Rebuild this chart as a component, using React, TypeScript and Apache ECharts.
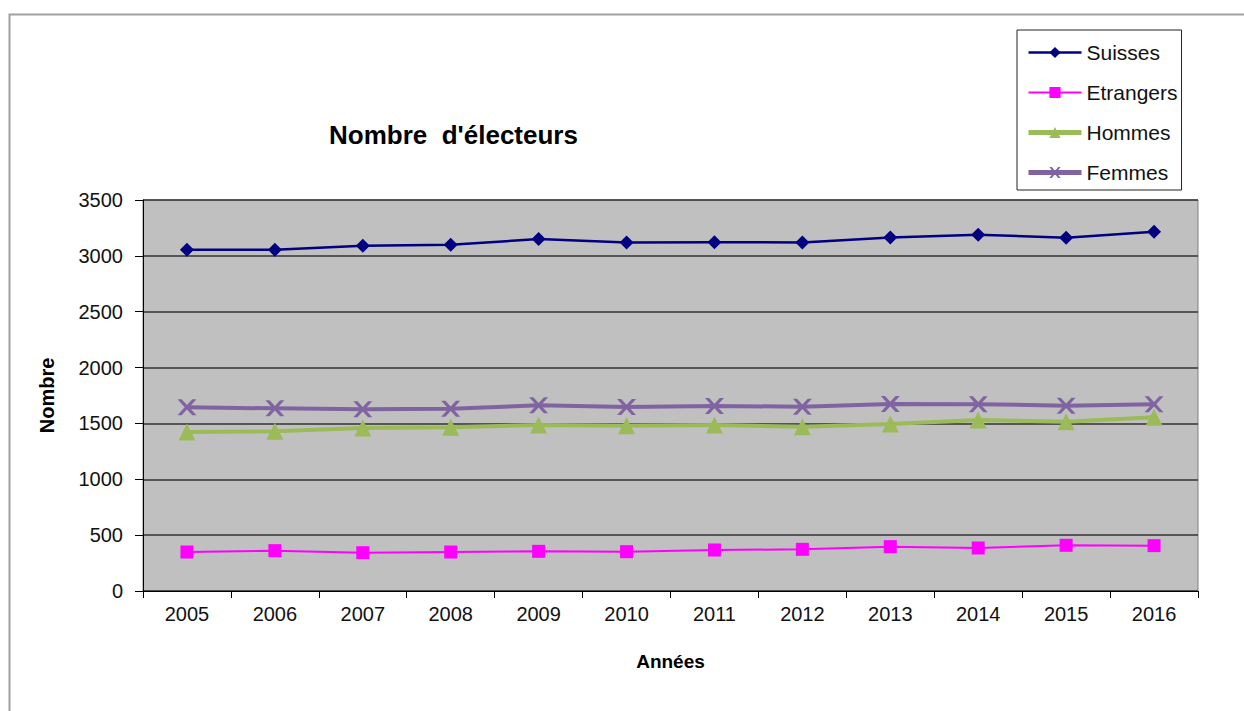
import React, { useEffect, useRef } from "react";
import * as echarts from "echarts";

const years = ["2005", "2006", "2007", "2008", "2009", "2010", "2011", "2012", "2013", "2014", "2015", "2016"];
const suisses = [3055, 3055, 3090, 3100, 3150, 3120, 3122, 3120, 3165, 3188, 3163, 3215];
const etrangers = [349, 361, 343, 349, 355, 352, 367, 373, 397, 385, 409, 406];
const hommes = [1423, 1430, 1459, 1465, 1486, 1480, 1486, 1471, 1495, 1531, 1516, 1555];
const femmes = [1644, 1635, 1627, 1632, 1662, 1647, 1656, 1650, 1674, 1672, 1659, 1671];
const yTicks = { min: 0, max: 3500, interval: 500 };

const FONT = "'Liberation Sans', Arial, sans-serif";
const X_SYMBOL = "path://M0,0 L2.2,0 L5,3.6 L7.8,0 L10,0 L6.2,5 L10,10 L7.8,10 L5,6.4 L2.2,10 L0,10 L3.8,5 Z";

export default function App() {
  const ref = useRef<HTMLDivElement>(null);
  useEffect(() => {
    document.body.style.margin = "0";
    const chart = echarts.init(ref.current!, null, { renderer: "svg" });
    chart.setOption({
      animation: false,
      backgroundColor: "#ffffff",
      textStyle: { fontFamily: FONT },
      title: {
        text: "Nombre  d'électeurs",
        left: 324,
        top: 117,
        textStyle: { fontFamily: FONT, fontSize: 26, fontWeight: "bold", color: "#000" },
      },
      graphic: [
        {
          type: "rect",
          shape: { x: 9.5, y: 14.5, width: 1300, height: 800 },
          style: { fill: "none", stroke: "#a0a0a0", lineWidth: 2 },
          silent: true,
        },
      ],
      legend: {
        orient: "vertical",
        left: 1017,
        top: 30,
        padding: [12, 4, 7, 9],
        itemGap: 19,
        itemWidth: 53,
        itemHeight: 14,
        borderColor: "#222",
        borderWidth: 1,
        backgroundColor: "#fff",
        textStyle: { fontFamily: FONT, fontSize: 21, lineHeight: 20, color: "#111" },
        data: [
          { name: "Suisses", lineStyle: { width: 2.5 } },
          { name: "Etrangers", lineStyle: { width: 2 } },
          { name: "Hommes", lineStyle: { width: 5 } },
          { name: "Femmes", lineStyle: { width: 5 } },
        ],
      },
      grid: {
        left: 143,
        right: 46,
        top: 200,
        bottom: 120,
        show: true,
        backgroundColor: "#C0C0C0",
        borderColor: "#808080",
        borderWidth: 1,
      },
      xAxis: {
        type: "category",
        data: years,
        boundaryGap: true,
        name: "Années",
        nameLocation: "middle",
        nameGap: 61,
        nameTextStyle: { fontFamily: FONT, fontSize: 19, fontWeight: "bold", color: "#000" },
        axisLine: { lineStyle: { color: "#000", width: 1 } },
        axisTick: { show: true, alignWithLabel: false, length: 7, lineStyle: { color: "#000" } },
        axisLabel: { fontFamily: FONT, fontSize: 20, color: "#111", margin: 13 },
      },
      yAxis: {
        type: "value",
        min: yTicks.min,
        max: yTicks.max,
        interval: yTicks.interval,
        name: "Nombre",
        nameLocation: "middle",
        nameGap: 86,
        nameTextStyle: { fontFamily: FONT, fontSize: 20, fontWeight: "bold", color: "#000" },
        axisLine: { show: true, lineStyle: { color: "#000", width: 1 } },
        axisTick: { show: true, length: 8, lineStyle: { color: "#000" } },
        axisLabel: {
          fontFamily: FONT,
          fontSize: 20,
          color: "#111",
          margin: 20,
          formatter: (v: number) => String(v),
        },
        splitLine: { show: true, lineStyle: { color: "#333", width: 1.5 } },
      },
      series: [
        {
          name: "Suisses",
          type: "line",
          data: suisses,
          symbol: "diamond",
          symbolSize: 14,
          color: "#000080",
          lineStyle: { color: "#000080", width: 2.5 },
          itemStyle: { color: "#000080" },
        },
        {
          name: "Etrangers",
          type: "line",
          data: etrangers,
          symbol: "rect",
          symbolSize: 13,
          color: "#FF00FF",
          lineStyle: { color: "#FF00FF", width: 2 },
          itemStyle: { color: "#FF00FF" },
        },
        {
          name: "Hommes",
          type: "line",
          data: hommes,
          symbol: "triangle",
          symbolSize: [17, 17],
          color: "#9BBB59",
          lineStyle: { color: "#9BBB59", width: 4 },
          itemStyle: { color: "#9BBB59" },
        },
        {
          name: "Femmes",
          type: "line",
          data: femmes,
          symbol: X_SYMBOL,
          symbolSize: [19, 16],
          color: "#8064A2",
          lineStyle: { color: "#8064A2", width: 4 },
          itemStyle: { color: "#8064A2" },
        },
      ],
    });
    return () => chart.dispose();
  }, []);
  return <div ref={ref} style={{ width: 1244, height: 711 }} />;
}
